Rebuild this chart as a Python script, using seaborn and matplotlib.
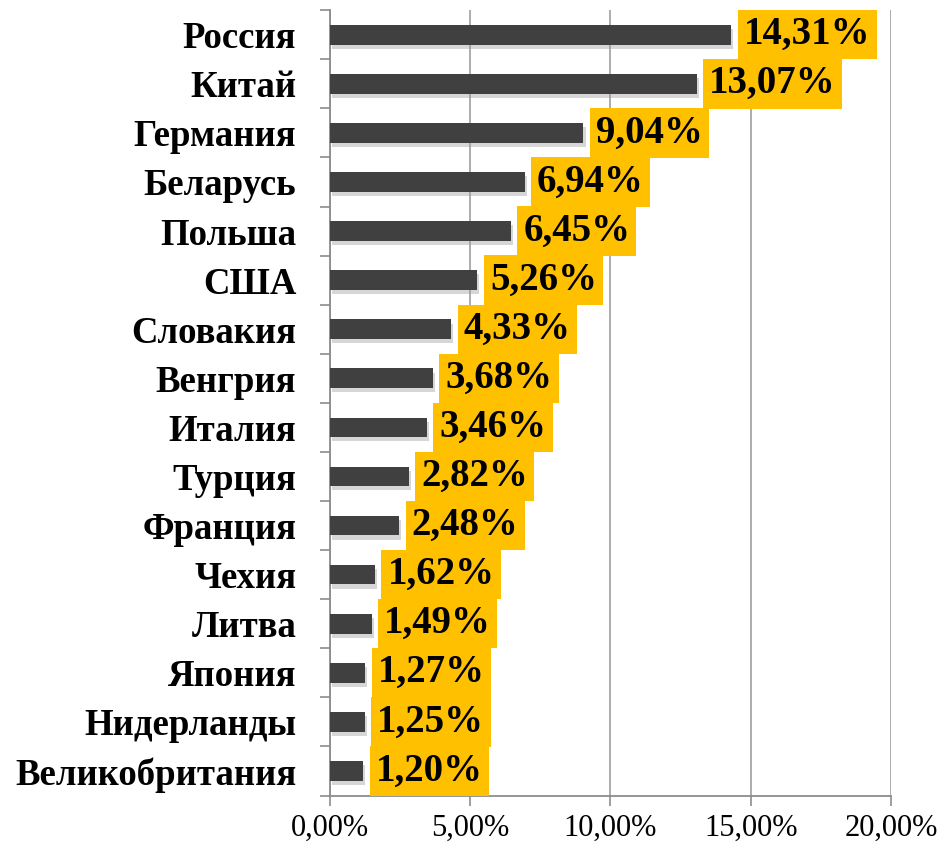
import matplotlib
matplotlib.use("Agg")
import matplotlib.pyplot as plt
import matplotlib.patheffects as pe
from matplotlib.ticker import FixedLocator
import seaborn as sns
import numpy as np
import pandas as pd

countries = ['Россия', 'Китай', 'Германия', 'Беларусь', 'Польша', 'США', 'Словакия',
             'Венгрия', 'Италия', 'Турция', 'Франция', 'Чехия', 'Литва', 'Япония',
             'Нидерланды', 'Великобритания']
shares = [14.31, 13.07, 9.04, 6.94, 6.45, 5.26, 4.33, 3.68, 3.46, 2.82, 2.48, 1.62,
          1.49, 1.27, 1.25, 1.20]
x_ticks = [0, 5, 10, 15, 20]
x_tick_labels = ['0,00%', '5,00%', '10,00%', '15,00%', '20,00%']

sns.set_style("white")
plt.rcParams['font.family'] = ['Liberation Serif', 'DejaVu Serif']

df = pd.DataFrame({'Страна': countries, 'Доля': shares})

fig = plt.figure(figsize=(9.42, 8.49), dpi=100)
ax = fig.add_axes([0.350, 0.063, 0.596, 0.925])

sns.barplot(data=df, x='Доля', y='Страна', orient='h', color='#404040',
            saturation=1, width=0.4, ax=ax, zorder=3)

# soft shadow under the bars, like the original
shadow = [pe.SimplePatchShadow(offset=(1.5, -3), shadow_rgbFace='#9a9a9a', alpha=0.4),
          pe.Normal()]
for p in ax.patches:
    p.set_path_effects(shadow)
    p.set_edgecolor('none')

for i, v in enumerate(shares):
    ax.annotate(f'{v:.2f}%'.replace('.', ','), xy=(v, i), xytext=(9, 0),
                textcoords='offset points', ha='left', va='center',
                fontsize=28, fontweight='bold', color='black', zorder=5,
                bbox=dict(boxstyle='square,pad=0.16', fc='#FFC000', ec='none'))

ax.set_xlim(0, 20)
ax.set_ylim(len(countries) - 0.5, -0.5)
ax.xaxis.set_major_locator(FixedLocator(x_ticks))
ax.set_xticklabels(x_tick_labels, fontsize=22, color='black')
ax.set_yticks(range(len(countries)))
ax.set_yticklabels(countries, fontsize=26.5, fontweight='bold', color='black')
ax.yaxis.set_minor_locator(FixedLocator(np.arange(-0.5, len(countries), 1)))
ax.tick_params(axis='y', which='major', length=0, pad=24)
ax.tick_params(axis='y', which='minor', length=7, width=1.2, color='#8c8c8c', left=True)
ax.tick_params(axis='x', which='major', length=7, width=1.2, color='#8c8c8c',
               bottom=True, pad=6)
ax.set_xlabel('')
ax.set_ylabel('')

ax.grid(axis='x', color='#a6a6a6', linewidth=1.3, zorder=0)
ax.set_axisbelow(True)
for side in ['top', 'right']:
    ax.spines[side].set_visible(False)
for side in ['left', 'bottom']:
    ax.spines[side].set_color('#8c8c8c')
    ax.spines[side].set_linewidth(1.3)

fig.savefig('out.png', dpi=100)
